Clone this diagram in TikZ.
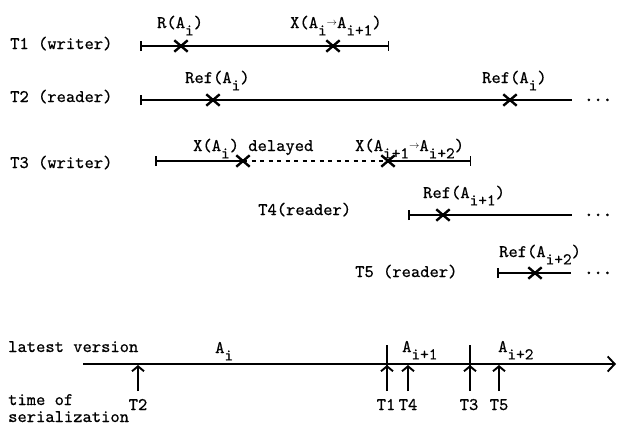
\documentclass[tikz,border=0pt]{standalone}
\usepackage{fontspec}
\newfontfamily\typer[FakeBold=0.6]{lmmono10-regular.otf}
\newfontfamily\typerbold[FakeBold=2.5]{lmmono10-regular.otf}
\usetikzlibrary{arrows.meta,shapes.misc}
% typewriter-style subscript: same face, dropped half a line
\newcommand{\lowr}[1]{\raisebox{-0.42em}{\fontsize{16.5}{18}\selectfont #1}}
\newcommand{\tto}{\raisebox{0.12em}{\scalebox{0.6}{$\rightarrow$}}}
\begin{document}
\begin{tikzpicture}[x=1pt,y=-1pt,
  every node/.style={inner sep=0pt, font=\typer\fontsize{17.7}{20}\selectfont},
  lbl/.style={anchor=base west},
  clbl/.style={anchor=base},
  xmark/.style={cross out, draw, minimum width=11pt, minimum height=9pt, line width=2.4pt},
  life/.style={line width=1.5pt},
  tickl/.style={life, {Bar[width=10pt,line width=1.5pt]}-},
  tickb/.style={life, {Bar[width=10pt,line width=1.5pt]}-{Bar[width=10pt,line width=1.5pt]}},
  tickr/.style={life, -{Bar[width=10pt,line width=1.5pt]}},
  delay/.style={life, dash pattern=on 4pt off 4.5pt},
  axis/.style={line width=1.9pt, -{Straight Barb[length=7pt,width=15pt,line width=1.9pt]}},
  uparr/.style={line width=1.9pt, -{Straight Barb[length=5pt,width=12pt,line width=1.9pt]}},
  more/.style={anchor=base west, font=\typerbold\fontsize{17.7}{20}\selectfont}]
\useasboundingbox (0,0) rectangle (635,429);

% ---- transaction lifelines ----
\node[lbl] (n1) at (10,49) {T1 (writer)};
\node[lbl] (n2) at (10,102) {T2 (reader)};
\node[lbl] (n3) at (10,168) {T3 (writer)};
\node[lbl] (n4) at (258,215) {T4(reader)};
\node[lbl] (n5) at (355,277) {T5 (reader)};

% T1
\coordinate (a1) at (140,46);
\coordinate (b1) at (389,46);
\draw[tickb] (a1) -- (b1);
\node[xmark] (x1a) at (181,46) {};
\node[xmark] (x1b) at (333,46) {};
\node[lbl] (l1a) at (157,28) {R(A\lowr{i})};
\node[lbl] (l1b) at (290,28) {X(A\lowr{i}\tto A\lowr{i+1})};

% T2
\coordinate (a2) at (140,100);
\coordinate (b2) at (572,100);
\draw[tickl] (a2) -- (b2);
\node[xmark] (x2a) at (213,100) {};
\node[xmark] (x2b) at (510,100) {};
\node[lbl] (l2a) at (185,83) {Ref(A\lowr{i})};
\node[lbl] (l2b) at (482,83) {Ref(A\lowr{i})};
\node[more] (d2) at (584,101) {...};

% T3
\coordinate (a3) at (155,161);
\coordinate (b3) at (471,161);
\node[xmark] (x3a) at (243,161) {};
\node[xmark] (x3b) at (388,161) {};
\draw[tickl] (a3) -- (x3a.center);
\draw[delay] (x3a.center) -- (x3b.center);
\draw[tickr] (x3b.center) -- (b3);
\node[lbl] (l3a) at (193,151) {X(A\lowr{i}) delayed};
\node[lbl] (l3b) at (355,151) {X(A\lowr{i+1}\tto A\lowr{i+2})};

% T4
\coordinate (a4) at (408,215);
\coordinate (b4) at (572,215);
\draw[tickl] (a4) -- (b4);
\node[xmark] (x4) at (443,215) {};
\node[lbl] (l4) at (423,198) {Ref(A\lowr{i+1})};
\node[more] (d4) at (584,216) {...};

% T5
\coordinate (a5) at (497,273);
\coordinate (b5) at (571,273);
\draw[tickl] (a5) -- (b5);
\node[xmark] (x5) at (535,273) {};
\node[lbl] (l5) at (499,257) {Ref(A\lowr{i+2})};
\node[more] (d5) at (584,274) {...};

% ---- version time line ----
\node[lbl] (lv) at (8,352) {latest version};
\coordinate (t0) at (83,364);
\coordinate (t1) at (616,364);
\draw[axis] (t0) -- (t1);
\node[lbl] (v1) at (215,353) {A\lowr{i}};
\node[lbl] (v2) at (402,352) {A\lowr{i+1}};
\node[lbl] (v3) at (498,352) {A\lowr{i+2}};

% version boundaries
\coordinate (k1a) at (387,345);
\coordinate (k1b) at (387,391);
\coordinate (k2a) at (470,345);
\coordinate (k2b) at (470,391);
\draw[line width=1.9pt] (k1a) -- (k1b);
\draw[line width=1.9pt] (k2a) -- (k2b);

% serialization points
\node[lbl] (ls1) at (8,405) {time of};
\node[lbl] (ls2) at (8,422) {serialization};
\node[clbl] (s2) at (138,410) {T2};
\node[clbl] (s1) at (386,410) {T1};
\node[clbl] (s4) at (408,410) {T4};
\node[clbl] (s3) at (469,410) {T3};
\node[clbl] (s5) at (499,410) {T5};
\foreach \x in {138,387,408,470,499}
  \draw[uparr] (\x,391) -- (\x,365);
\end{tikzpicture}
\end{document}
